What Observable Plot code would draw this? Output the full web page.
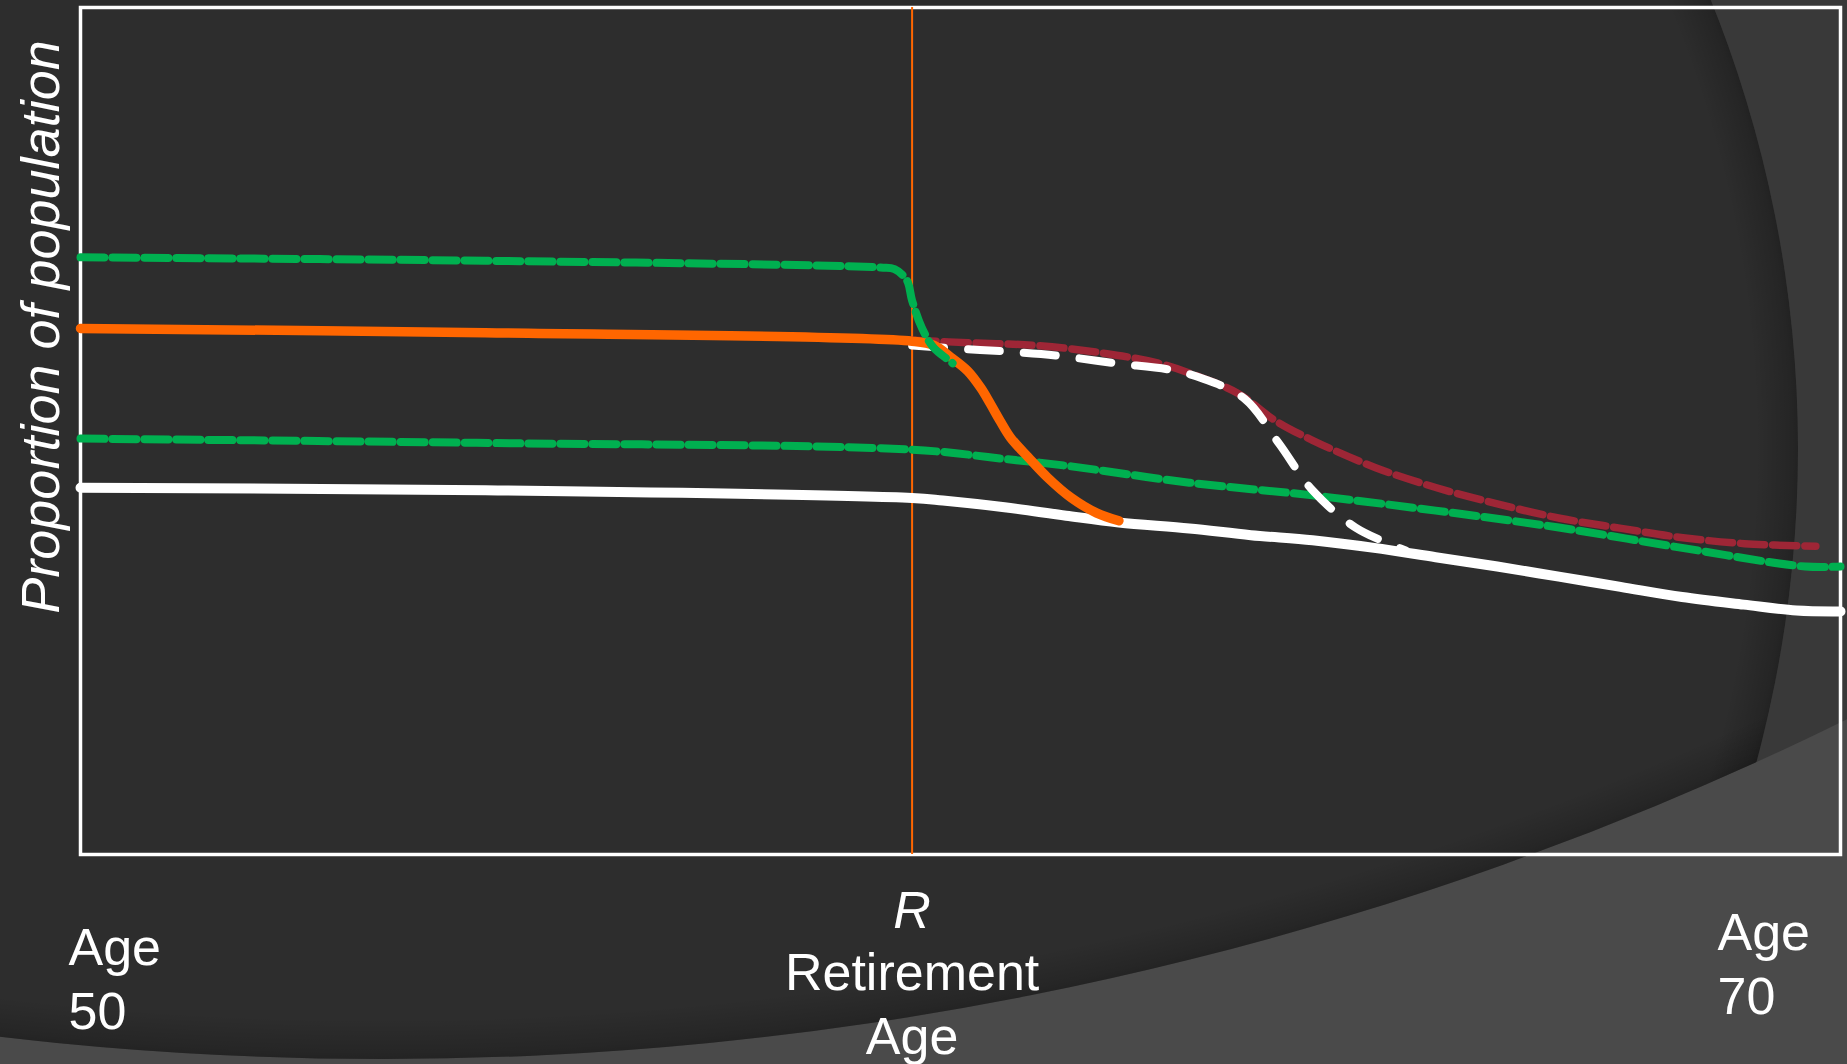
<!DOCTYPE html>
<html>
<head>
<meta charset="utf-8">
<script src="https://cdn.jsdelivr.net/npm/d3@7"></script>
<script src="https://cdn.jsdelivr.net/npm/@observablehq/plot@0.6"></script>
<style>
  html, body { margin: 0; padding: 0; background: #4a4a4a; overflow: hidden; }
  #wrap { position: relative; width: 1847px; height: 1064px; overflow: hidden; }
  #bg, #chart { position: absolute; left: 0; top: 0; }
  #chart svg { display: block; }
</style>
</head>
<body>
<div id="wrap">
  <svg id="bg" width="1847" height="1064" viewBox="0 0 1847 1064">
    <defs>
      <clipPath id="c2"><circle cx="383" cy="-2266" r="3325"/></clipPath>
      <clipPath id="c1"><circle cx="598" cy="449" r="1200"/></clipPath>
      <radialGradient id="g1" gradientUnits="userSpaceOnUse" cx="598" cy="449" r="1200">
        <stop offset="0.965" stop-color="#000" stop-opacity="0"/>
        <stop offset="0.995" stop-color="#000" stop-opacity="0.18"/>
        <stop offset="1" stop-color="#000" stop-opacity="0.25"/>
      </radialGradient>
      <radialGradient id="g2" gradientUnits="userSpaceOnUse" cx="383" cy="-2266" r="3325">
        <stop offset="0.988" stop-color="#000" stop-opacity="0"/>
        <stop offset="0.998" stop-color="#000" stop-opacity="0.16"/>
        <stop offset="1" stop-color="#000" stop-opacity="0.22"/>
      </radialGradient>
    </defs>
    <rect width="1847" height="1064" fill="#4a4a4a"/>
    <circle cx="383" cy="-2266" r="3325" fill="#393939"/>
    <g clip-path="url(#c2)">
      <circle cx="598" cy="449" r="1200" fill="#2d2d2d"/>
      <g clip-path="url(#c1)">
        <circle cx="598" cy="449" r="1200" fill="url(#g1)"/>
        <circle cx="383" cy="-2266" r="3325" fill="url(#g2)"/>
      </g>
    </g>
  </svg>
  <div id="chart"></div>
</div>
<script>
// ---- data (ages on the x axis, proportion of population on the y axis) ----
const retirementAge = 59.45;

const greenUpperAges   = [50, 54.6, 59.09, 59.25, 59.39, 59.45, 59.56, 59.69, 59.86, 59.91];
const greenUpperValues = [0.705, 0.701, 0.693, 0.691, 0.678, 0.654, 0.622, 0.599, 0.584, 0.580];

const orangeAges   = [50, 54.6, 59.45, 59.7, 59.89, 60.08, 60.23, 60.34, 60.45, 60.57, 60.77, 60.99, 61.26, 61.55, 61.80];
const orangeValues = [0.621, 0.616, 0.606, 0.601, 0.587, 0.571, 0.551, 0.532, 0.512, 0.492, 0.469, 0.445, 0.421, 0.403, 0.394];

const greenLowerAges   = [50, 54.5, 59.45, 60.5, 61.2, 62.6, 64.0, 65.4, 66.8, 68.2, 69.6, 70];
const greenLowerValues = [0.491, 0.486, 0.478, 0.467, 0.459, 0.439, 0.424, 0.406, 0.386, 0.362, 0.340, 0.340];

const whiteSolidAges   = [50, 54.6, 59.45, 59.8, 60.5, 61.2, 61.8, 62.6, 63.3, 64.0, 64.7, 65.4, 66.1, 66.8, 67.5, 68.2, 68.9, 69.5, 70];
const whiteSolidValues = [0.433, 0.430, 0.421, 0.418, 0.410, 0.400, 0.392, 0.385, 0.377, 0.371, 0.362, 0.351, 0.340, 0.328, 0.316, 0.304, 0.295, 0.288, 0.287];

const redDashedAges   = [59.45, 60.15, 60.85, 61.55, 62.25, 62.74, 63.16, 63.58, 64.0, 64.71, 65.41, 66.1, 66.81, 67.51, 68.21, 68.91, 69.72];
const redDashedValues = [0.607, 0.604, 0.601, 0.593, 0.580, 0.563, 0.544, 0.512, 0.489, 0.457, 0.433, 0.414, 0.397, 0.385, 0.374, 0.367, 0.364];

const whiteDashedAges   = [59.45, 60.0, 60.5, 61.1, 61.75, 62.4, 62.75, 63.23, 63.62, 64.0, 64.49, 65.06];
const whiteDashedValues = [0.601, 0.597, 0.594, 0.589, 0.580, 0.572, 0.562, 0.538, 0.485, 0.430, 0.386, 0.359];

const tickAges   = [50, retirementAge, 70];
const tickLabels = ["Age\n50", "Retirement\nAge", "Age\n70"];
const tickMarker = "R";
const yLabel = "Proportion of population";

// ---- build tables ----
const series = (ages, values) => ages.map((age, i) => ({age, value: values[i]}));
const greenUpper  = series(greenUpperAges, greenUpperValues);
const orange      = series(orangeAges, orangeValues);
const greenLower  = series(greenLowerAges, greenLowerValues);
const whiteSolid  = series(whiteSolidAges, whiteSolidValues);
const redDashed   = series(redDashedAges, redDashedValues);
const whiteDashed = series(whiteDashedAges, whiteDashedValues);
const ticks = tickAges.map((age, i) => ({age, label: tickLabels[i]}));

const font = "'Liberation Sans', Arial, sans-serif";
const labelSize = 52;
const lh = 1.23;

const chart = Plot.plot({
  width: 1847,
  height: 1064,
  marginLeft: 80,
  marginRight: 7,
  marginTop: 7,
  marginBottom: 210,
  x: {domain: [50, 70], axis: null},
  y: {domain: [0, 1], axis: null},
  style: {background: "transparent", color: "white", fontFamily: font, overflow: "visible"},
  marks: [
    Plot.frame({stroke: "white", strokeWidth: 3.5}),
    Plot.ruleX([retirementAge], {stroke: "#FF6600", strokeWidth: 2}),
    Plot.line(whiteSolid, {x: "age", y: "value", stroke: "white", strokeWidth: 10, curve: "catmull-rom", strokeLinecap: "round"}),
    Plot.line(greenLower, {x: "age", y: "value", stroke: "#00B050", strokeWidth: 8, strokeDasharray: "24,8", curve: "catmull-rom"}),
    Plot.line(redDashed, {x: "age", y: "value", stroke: "#9E2636", strokeWidth: 7.5, strokeDasharray: "24,8", curve: "catmull-rom"}),
    Plot.line(whiteDashed, {x: "age", y: "value", stroke: "white", strokeWidth: 8, strokeDasharray: "32,24", curve: "catmull-rom"}),
    Plot.line(orange, {x: "age", y: "value", stroke: "#FF6600", strokeWidth: 9.5, curve: "catmull-rom", strokeLinecap: "round"}),
    Plot.line(greenUpper, {x: "age", y: "value", stroke: "#00B050", strokeWidth: 8, strokeDasharray: "24,8", curve: "catmull-rom"}),
    // y label
    Plot.text([yLabel], {frameAnchor: "left", textAnchor: "middle", lineAnchor: "middle", rotate: -90, dx: -39, dy: -104, fontSize: 54, fontStyle: "italic", fill: "white"}),
    // bottom labels
    Plot.text(ticks.slice(0, 1), {x: "age", y: () => 0, text: "label", textAnchor: "start", lineAnchor: "bottom", lineHeight: lh, dx: -12, dy: 174, fontSize: labelSize, fill: "white"}),
    Plot.text(ticks.slice(1, 2), {x: "age", y: () => 0, text: "label", textAnchor: "middle", lineAnchor: "bottom", lineHeight: lh, dy: 199, fontSize: labelSize, fill: "white"}),
    Plot.text(ticks.slice(1, 2), {x: "age", y: () => 0, text: () => tickMarker, textAnchor: "middle", lineAnchor: "bottom", dy: 73, fontSize: labelSize, fontStyle: "italic", fill: "white"}),
    Plot.text(ticks.slice(2, 3), {x: "age", y: () => 0, text: "label", textAnchor: "start", lineAnchor: "bottom", lineHeight: lh, dx: -123, dy: 159, fontSize: labelSize, fill: "white"})
  ]
});
document.getElementById("chart").appendChild(chart);
</script>
</body>
</html>
